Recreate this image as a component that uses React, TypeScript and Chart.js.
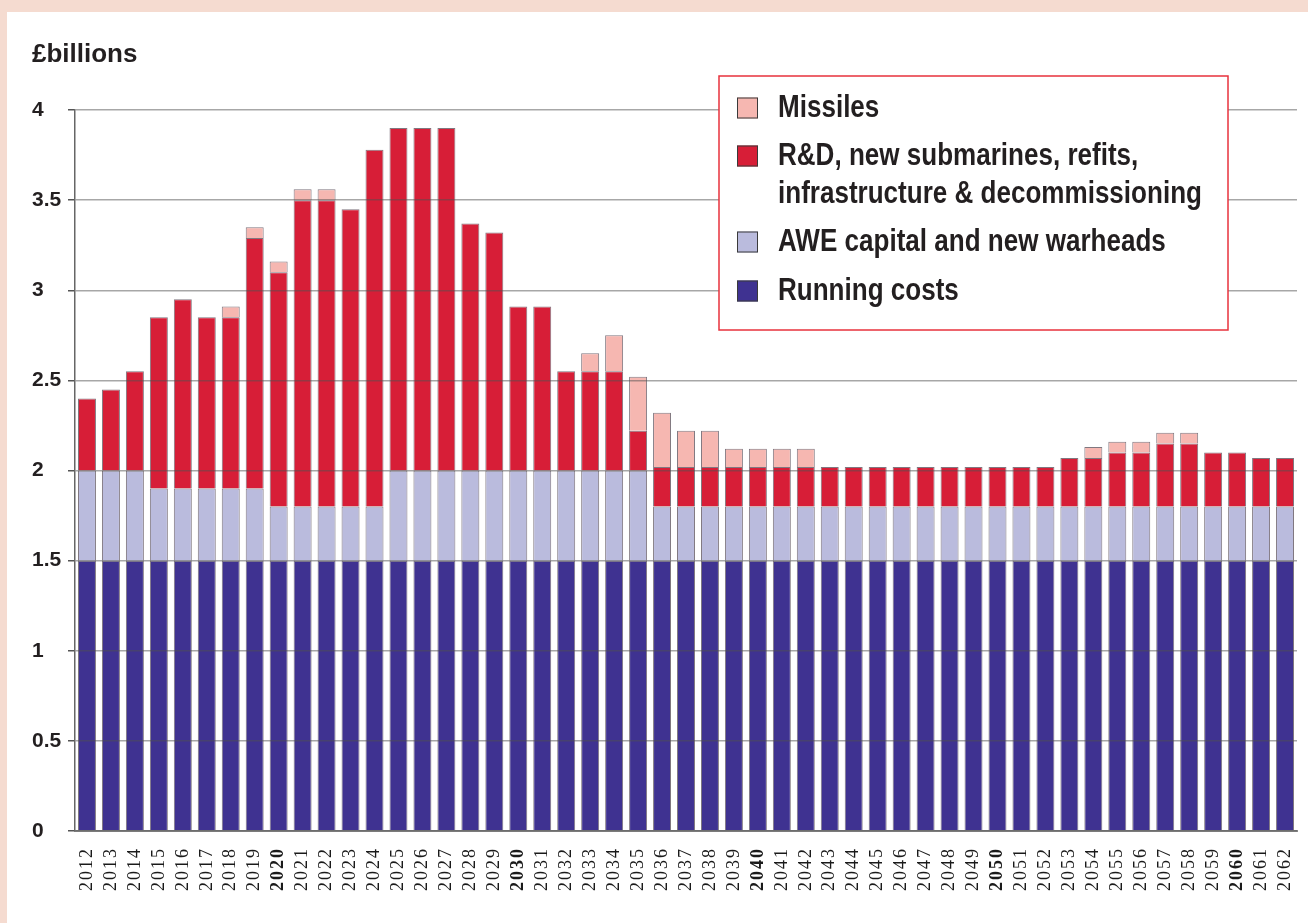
import React, { useEffect, useRef } from 'react';
import { Chart, registerables } from 'chart.js';

Chart.register(...registerables);

// ---------- data ----------
const years = [
  '2012', '2013', '2014', '2015', '2016', '2017', '2018', '2019', '2020', '2021',
  '2022', '2023', '2024', '2025', '2026', '2027', '2028', '2029', '2030', '2031',
  '2032', '2033', '2034', '2035', '2036', '2037', '2038', '2039', '2040', '2041',
  '2042', '2043', '2044', '2045', '2046', '2047', '2048', '2049', '2050', '2051',
  '2052', '2053', '2054', '2055', '2056', '2057', '2058', '2059', '2060', '2061',
  '2062',
];
const boldYears = ['2020', '2030', '2040', '2050', '2060'];

const runningCosts = [
  1.5, 1.5, 1.5, 1.5, 1.5, 1.5, 1.5, 1.5, 1.5, 1.5,
  1.5, 1.5, 1.5, 1.5, 1.5, 1.5, 1.5, 1.5, 1.5, 1.5,
  1.5, 1.5, 1.5, 1.5, 1.5, 1.5, 1.5, 1.5, 1.5, 1.5,
  1.5, 1.5, 1.5, 1.5, 1.5, 1.5, 1.5, 1.5, 1.5, 1.5,
  1.5, 1.5, 1.5, 1.5, 1.5, 1.5, 1.5, 1.5, 1.5, 1.5,
  1.5,
];
const aweCapital = [
  0.5, 0.5, 0.5, 0.4, 0.4, 0.4, 0.4, 0.4, 0.3, 0.3,
  0.3, 0.3, 0.3, 0.5, 0.5, 0.5, 0.5, 0.5, 0.5, 0.5,
  0.5, 0.5, 0.5, 0.5, 0.3, 0.3, 0.3, 0.3, 0.3, 0.3,
  0.3, 0.3, 0.3, 0.3, 0.3, 0.3, 0.3, 0.3, 0.3, 0.3,
  0.3, 0.3, 0.3, 0.3, 0.3, 0.3, 0.3, 0.3, 0.3, 0.3,
  0.3,
];
const rdSubmarines = [
  0.4, 0.45, 0.55, 0.95, 1.05, 0.95, 0.95, 1.39, 1.3, 1.7,
  1.7, 1.65, 1.98, 1.9, 1.9, 1.9, 1.37, 1.32, 0.91, 0.91,
  0.55, 0.55, 0.55, 0.22, 0.22, 0.22, 0.22, 0.22, 0.22, 0.22,
  0.22, 0.22, 0.22, 0.22, 0.22, 0.22, 0.22, 0.22, 0.22, 0.22,
  0.22, 0.27, 0.27, 0.3, 0.3, 0.35, 0.35, 0.3, 0.3, 0.27,
  0.27,
];
const missiles = [
  null, null, null, null, null, null, 0.06, 0.06, 0.06, 0.06,
  0.06, null, null, null, null, null, null, null, null, null,
  null, 0.1, 0.2, 0.3, 0.3, 0.2, 0.2, 0.1, 0.1, 0.1,
  0.1, null, null, null, null, null, null, null, null, null,
  null, null, 0.06, 0.06, 0.06, 0.06, 0.06, null, null, null,
  null,
];

const yMin = 0;
const yMax = 4;
const yStep = 0.5;

const legendLabels: (string | string[])[] = [
  'Missiles',
  ['R&D, new submarines, refits,', 'infrastructure & decommissioning'],
  'AWE capital and new warheads',
  'Running costs',
];

// ---------- styles ----------
const COL_RUNNING = '#3f3291';
const COL_AWE = '#babbdd';
const COL_RD = '#d71e37';
const COL_MISSILE = '#f6b7b1';
const BAR_BORDER = 'rgba(85,75,85,0.75)';
const TEXT = '#231f20';
const SANS = "'Liberation Sans', Arial, sans-serif";
const SERIF = "'Liberation Serif', 'Times New Roman', serif";

const boxLegend = {
  id: 'boxLegend',
  afterDraw(chart: any, _args: any, opts: any) {
    const ctx: CanvasRenderingContext2D = chart.ctx;
    ctx.save();
    ctx.fillStyle = '#ffffff';
    ctx.fillRect(opts.x, opts.y, opts.w, opts.h);
    ctx.strokeStyle = '#e8323d';
    ctx.lineWidth = 1.5;
    ctx.strokeRect(opts.x, opts.y, opts.w, opts.h);
    const order = [3, 2, 1, 0];
    order.forEach((dsIndex, i) => {
      const ds = chart.data.datasets[dsIndex];
      const cy = opts.rows[i];
      const s = opts.swatch;
      ctx.fillStyle = ds.backgroundColor;
      ctx.fillRect(opts.swatchX, cy - s / 2, s, s);
      ctx.strokeStyle = '#3a3a3a';
      ctx.lineWidth = 1;
      ctx.strokeRect(opts.swatchX + 0.5, cy - s / 2 + 0.5, s - 1, s - 1);
      const lab = legendLabels[i];
      const lines = Array.isArray(lab) ? lab : [lab];
      lines.forEach((ln, j) => {
        ctx.save();
        ctx.translate(opts.textX, cy + j * opts.lineGap);
        ctx.scale(opts.narrow, 1);
        ctx.font = `bold ${opts.fontSize}px ${SANS}`;
        ctx.textBaseline = 'middle';
        ctx.textAlign = 'left';
        ctx.fillStyle = TEXT;
        ctx.fillText(ln, 0, 0);
        ctx.restore();
      });
    });
    ctx.restore();
  },
};

const xLetterSpacing = {
  id: 'xLetterSpacing',
  afterUpdate(chart: any, _args: any, opts: any) {
    const s: any = chart.scales.x;
    if (s && !s.__ls) {
      const orig = s.drawLabels;
      s.drawLabels = function (ca: any) {
        const c: any = this.ctx;
        c.save();
        c.letterSpacing = opts.spacing;
        orig.call(this, ca);
        c.restore();
      };
      s.__ls = true;
    }
  },
};

export default function App() {
  const ref = useRef<HTMLCanvasElement | null>(null);

  useEffect(() => {
    if (!ref.current) return;
    const chart = new Chart(ref.current, {
      type: 'bar',
      data: {
        labels: years,
        datasets: [
          { label: 'Running costs', data: runningCosts, backgroundColor: COL_RUNNING },
          { label: 'AWE capital and new warheads', data: aweCapital, backgroundColor: COL_AWE },
          { label: 'R&D, new submarines, refits, infrastructure & decommissioning', data: rdSubmarines, backgroundColor: COL_RD },
          { label: 'Missiles', data: missiles as any, backgroundColor: COL_MISSILE },
        ],
      },
      options: {
        animation: false,
        responsive: false,
        maintainAspectRatio: false,
        layout: { padding: { top: 12, left: 25, right: 11, bottom: 0 } },
        datasets: {
          bar: {
            categoryPercentage: 1,
            barPercentage: 0.75,
            borderWidth: 1,
            borderColor: BAR_BORDER,
          },
        },
        scales: {
          x: {
            stacked: true,
            grid: { display: false, drawTicks: false },
            border: { display: true, color: '#8a8a8a', width: 2, z: 1 },
            afterFit: (s: any) => { s.height = 92; s.paddingLeft = 0; s.paddingRight = 0; },
            ticks: {
              autoSkip: false,
              minRotation: 90,
              maxRotation: 90,
              padding: 16,
              color: '#1a1a1a',
              font: (ctx: any) => ({
                family: SERIF,
                size: 18,
                weight: boldYears.includes(years[ctx.index]) ? 'bold' : 'normal',
              }),
            },
          },
          y: {
            stacked: true,
            min: yMin,
            max: yMax,
            afterFit: (s: any) => { s.width = 43; },
            grid: {
              color: 'rgba(80,80,80,0.5)',
              lineWidth: 1.5,
              drawTicks: true,
              tickLength: 7,
              tickColor: '#555555',
              z: 1,
            },
            border: { display: true, color: '#666666', width: 1.5, z: 1 },
            ticks: {
              stepSize: yStep,
              crossAlign: 'far',
              padding: 4,
              color: TEXT,
              font: { family: SANS, size: 21, weight: 'bold' },
              callback: (v: any) => String(Number(v)),
            },
          },
        },
        plugins: {
          legend: { display: false },
          tooltip: { enabled: false },
          title: {
            display: true,
            text: '£billions',
            align: 'start',
            color: TEXT,
            font: { family: SANS, size: 26, weight: 'bold', lineHeight: 1.2 },
            padding: { top: 15, bottom: 39.8 },
          },
          boxLegend: {
            x: 712, y: 64, w: 509, h: 254,
            swatchX: 730, swatch: 21, textX: 771,
            rows: [96, 144, 230, 279], lineGap: 38,
            fontSize: 31, narrow: 0.84,
          },
          xLetterSpacing: { spacing: '2px' },
        } as any,
      },
      plugins: [boxLegend, xLetterSpacing],
    });
    return () => chart.destroy();
  }, []);

  return (
    <div style={{ position: 'fixed', left: 0, top: 0, width: 1308, height: 923, background: '#f5dbd0' }}>
      <div style={{ position: 'absolute', left: 7, top: 12, width: 1301, height: 911, background: '#ffffff' }}>
        <canvas ref={ref} width={1301} height={911} style={{ display: 'block', width: 1301, height: 911 }} />
      </div>
    </div>
  );
}
